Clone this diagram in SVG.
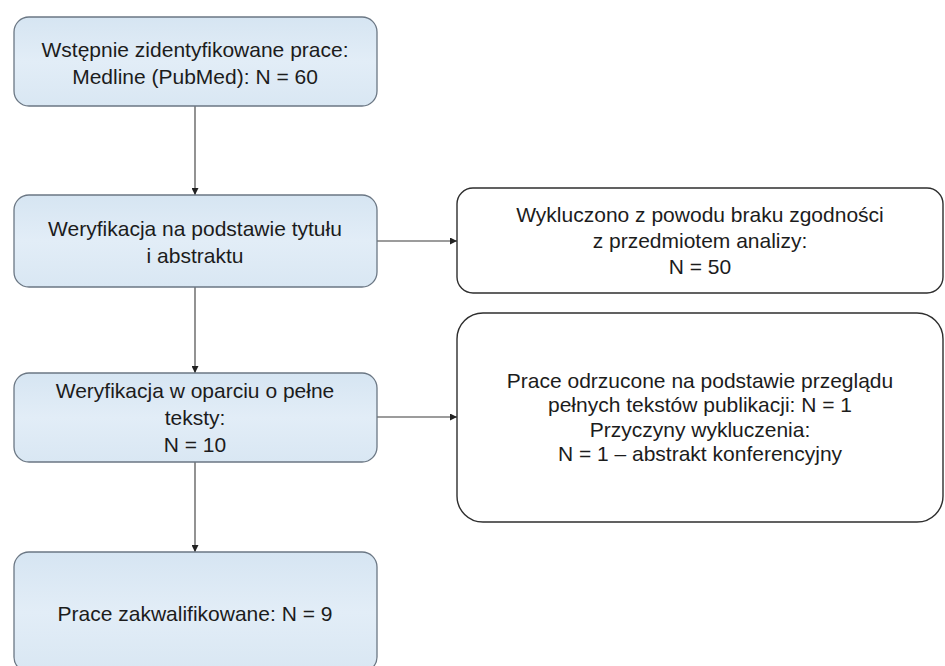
<svg xmlns="http://www.w3.org/2000/svg" width="945" height="666" viewBox="0 0 945 666">
  <defs>
    <linearGradient id="blueFill" x1="0" y1="0" x2="0" y2="1">
      <stop offset="0" stop-color="#d6e5f2"/>
      <stop offset="0.5" stop-color="#e2edf7"/>
      <stop offset="1" stop-color="#d9e7f3"/>
    </linearGradient>
    <marker id="arrow" viewBox="0 0 10 10" refX="10" refY="5" markerWidth="7" markerHeight="7" markerUnits="userSpaceOnUse" orient="auto">
      <path d="M0,0 L10,5 L0,10 z" fill="#222"/>
    </marker>
    <style>
      .blue { fill: url(#blueFill); stroke: #6b7784; stroke-width: 1.3; }
      .white { fill: #ffffff; stroke: #2e2e2e; stroke-width: 1.4; }
      .txt { font-family: "Liberation Sans", Arial, sans-serif; font-size: 21px; fill: #1c1c1c; text-anchor: middle; }
      .conn { stroke: #3a3a3a; stroke-width: 1.1; fill: none; marker-end: url(#arrow); }
    </style>
  </defs>
  <rect x="0" y="0" width="945" height="666" fill="#ffffff"/>

  <g id="connectors">
    <line class="conn" x1="195" y1="106" x2="195" y2="195"/>
    <line class="conn" x1="195" y1="287" x2="195" y2="373"/>
    <line class="conn" x1="195" y1="462" x2="195" y2="552"/>
    <line class="conn" x1="377" y1="241" x2="457" y2="241"/>
    <line class="conn" x1="377" y1="417" x2="457" y2="417"/>
  </g>

  <g id="box-identified">
    <rect class="blue" x="14" y="17" width="363" height="89" rx="15" ry="15"/>
    <text class="txt" x="195" y="57">Wstępnie zidentyfikowane prace:</text>
    <text class="txt" x="195" y="84">Medline (PubMed): N = 60</text>
  </g>

  <g id="box-title-abstract">
    <rect class="blue" x="14" y="195" width="363" height="92" rx="15" ry="15"/>
    <text class="txt" x="195" y="236">Weryfikacja na podstawie tytułu</text>
    <text class="txt" x="195" y="263">i abstraktu</text>
  </g>

  <g id="box-excluded-50">
    <rect class="white" x="457" y="188" width="486" height="105" rx="16" ry="16"/>
    <text class="txt" x="700" y="222">Wykluczono z powodu braku zgodności</text>
    <text class="txt" x="700" y="248">z przedmiotem analizy:</text>
    <text class="txt" x="700" y="274">N = 50</text>
  </g>

  <g id="box-fulltext">
    <rect class="blue" x="14" y="373" width="363" height="89" rx="15" ry="15"/>
    <text class="txt" x="195" y="398">Weryfikacja w oparciu o pełne</text>
    <text class="txt" x="195" y="425">teksty:</text>
    <text class="txt" x="195" y="452">N = 10</text>
  </g>

  <g id="box-rejected-fulltext">
    <rect class="white" x="457" y="313" width="486" height="209" rx="26" ry="26"/>
    <text class="txt" x="700" y="388">Prace odrzucone na podstawie przeglądu</text>
    <text class="txt" x="700" y="412">pełnych tekstów publikacji: N = 1</text>
    <text class="txt" x="700" y="437">Przyczyny wykluczenia:</text>
    <text class="txt" x="700" y="461">N = 1 – abstrakt konferencyjny</text>
  </g>

  <g id="box-qualified">
    <rect class="blue" x="14" y="552" width="363" height="120" rx="15" ry="15"/>
    <text class="txt" x="195" y="621">Prace zakwalifikowane: N = 9</text>
  </g>
</svg>
